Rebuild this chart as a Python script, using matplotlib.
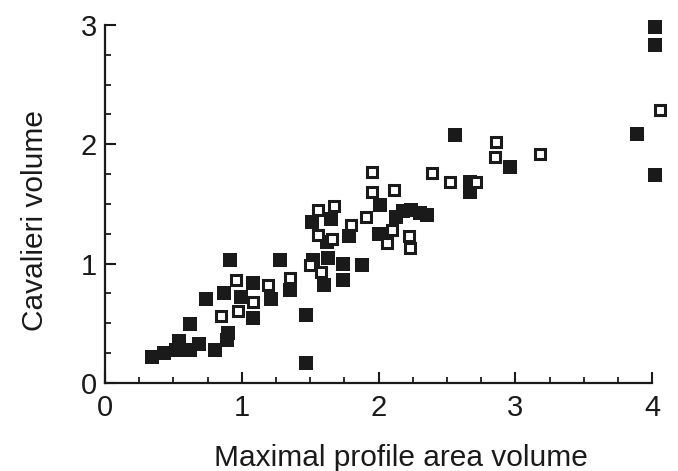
import matplotlib
matplotlib.use("Agg")
import matplotlib.pyplot as plt
from matplotlib.ticker import MultipleLocator

# ── Data ──────────────────────────────────────────────────────────────────────
filled_x = [0.34, 0.43, 0.52, 0.54, 0.62, 0.69, 0.80, 0.89, 0.90, 0.62,
            0.91, 0.74, 0.87, 0.99, 1.08, 1.08, 1.21, 1.28, 1.35, 1.47,
            1.47, 1.51, 1.52, 1.63, 1.65, 1.62, 1.60, 1.74, 1.74, 1.78,
            1.88, 2.01, 2.00, 2.13, 2.18, 2.24, 2.30, 2.35, 2.56, 2.67,
            2.67, 2.96, 3.89, 4.02, 4.02, 4.02]
filled_y = [0.22, 0.25, 0.28, 0.35, 0.28, 0.33, 0.28, 0.36, 0.42, 0.49,
            1.03, 0.70, 0.75, 0.72, 0.84, 0.54, 0.70, 1.03, 0.78, 0.57,
            0.17, 1.35, 1.03, 1.05, 1.37, 1.18, 0.82, 1.00, 0.86, 1.23,
            0.99, 1.49, 1.25, 1.39, 1.44, 1.45, 1.42, 1.41, 2.08, 1.60,
            1.68, 1.81, 2.09, 1.74, 2.98, 2.83]

open_x = [0.85, 0.97, 0.96, 1.08, 1.19, 1.35, 1.50, 1.58, 1.56, 1.67,
          1.56, 1.66, 1.80, 1.91, 1.95, 1.95, 2.11, 2.10, 2.06, 2.22,
          2.23, 2.39, 2.52, 2.71, 2.86, 2.85, 3.18, 4.06]
open_y = [0.56, 0.60, 0.86, 0.68, 0.82, 0.88, 0.99, 0.93, 1.45, 1.48,
          1.24, 1.21, 1.32, 1.39, 1.77, 1.60, 1.62, 1.28, 1.17, 1.23,
          1.13, 1.76, 1.68, 1.68, 2.02, 1.89, 1.92, 2.29]

x_ticks = [0, 1, 2, 3, 4]
y_ticks = [0, 1, 2, 3]

# ── Plot ──────────────────────────────────────────────────────────────────────
plt.rcParams["font.family"] = ["Liberation Sans", "DejaVu Sans"]

fig = plt.figure(figsize=(6.78, 4.71), dpi=100)
ax = fig.add_axes([0.155, 0.187, 0.807, 0.760])

ax.plot(filled_x, filled_y, "s", color="#1a1a1a", ms=9.5, mew=0,
        clip_on=False, zorder=3)
ax.plot(open_x, open_y, "s", mfc="white", mec="#1a1a1a", ms=7.8, mew=2.2,
        clip_on=False, zorder=4)

ax.set_xlim(0, 4)
ax.set_ylim(0, 3)
ax.set_xticks(x_ticks)
ax.set_yticks(y_ticks)
ax.xaxis.set_minor_locator(MultipleLocator(0.25))
ax.yaxis.set_minor_locator(MultipleLocator(0.25))

for side in ("top", "right"):
    ax.spines[side].set_visible(False)
for side in ("left", "bottom"):
    ax.spines[side].set_linewidth(1.6)
    ax.spines[side].set_color("#1a1a1a")

ax.tick_params(which="major", direction="in", length=8, width=1.5,
               labelsize=21, colors="#1a1a1a")
ax.tick_params(axis="x", which="major", pad=8)
ax.tick_params(axis="y", which="major", pad=6)
ax.tick_params(which="minor", direction="in", length=4, width=1.3,
               colors="#1a1a1a")

ax.set_xlabel("Maximal profile area volume", fontsize=21.5, color="#1a1a1a")
ax.set_ylabel("Cavalieri volume", fontsize=21.5, color="#1a1a1a")
ax.xaxis.set_label_coords(0.54, -0.172)
ax.yaxis.set_label_coords(-0.102, 0.455)

fig.savefig("out.png", dpi=100, facecolor="white")
